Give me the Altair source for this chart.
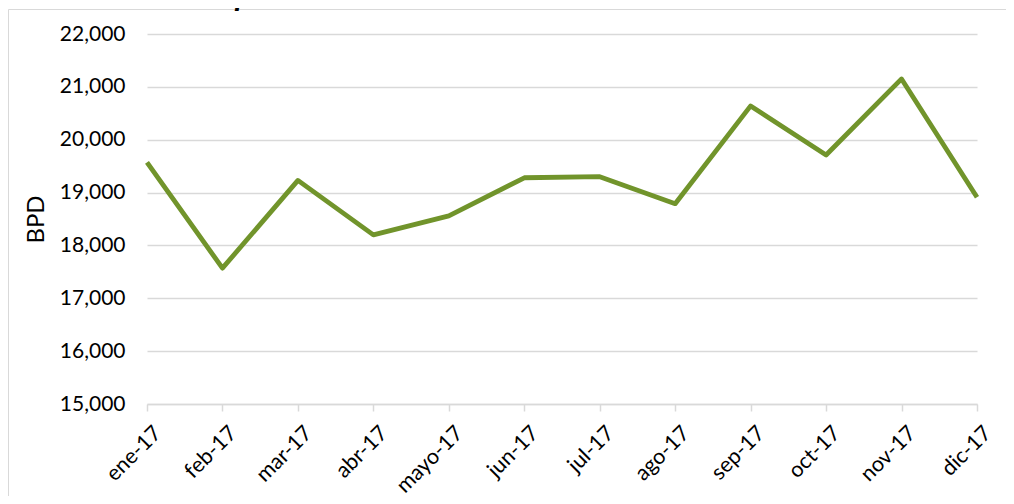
import altair as alt
import pandas as pd

months = ["ene-17", "feb-17", "mar-17", "abr-17", "mayo-17", "jun-17",
          "jul-17", "ago-17", "sep-17", "oct-17", "nov-17", "dic-17"]
bpd = [19570, 17570, 19230, 18200, 18560, 19280,
       19300, 18790, 20640, 19710, 21150, 18910]
y_ticks = [15000, 16000, 17000, 18000, 19000, 20000, 21000, 22000]
title_text = "Gráfica 21. Consumo nacional mensual de GLP año 2017."

df = pd.DataFrame({"mes": months, "bpd": bpd})
one = pd.DataFrame({"t": [title_text]})

FONT = "Lato"
GRID = "#D9D9D9"

line = alt.Chart(df).mark_line(
    color="#71942B", strokeWidth=4.8, strokeJoin="round"
).encode(
    x=alt.X("mes:N", sort=months,
            scale=alt.Scale(type="point", padding=0),
            axis=alt.Axis(title=None, labelAngle=-45, labelAlign="right",
                          labelBaseline="top", labelFont=FONT,
                          labelFontSize=21.5, labelColor="#000000",
                          labelPadding=11, labelOffset=3,
                          tickSize=7, tickColor=GRID, tickWidth=1.5,
                          domainColor=GRID, domainWidth=1.5, grid=False)),
    y=alt.Y("bpd:Q",
            scale=alt.Scale(domain=[15000, 22000], nice=False, zero=False),
            axis=alt.Axis(title="BPD", values=y_ticks, format=",d",
                          labelFont=FONT, labelFontSize=21,
                          labelColor="#000000", labelPadding=22,
                          titleFont=FONT, titleFontSize=24,
                          titleFontWeight="normal", titleColor="#000000",
                          titlePadding=11,
                          domain=False, ticks=False, grid=True,
                          gridColor=GRID, gridWidth=1.5)),
)

border = alt.Chart(one).mark_rect(
    fill="transparent", stroke=GRID, strokeWidth=1
).encode(
    x=alt.value(-138.5), x2=alt.value(900),
    y=alt.value(-24.5), y2=alt.value(480),
)

title = alt.Chart(one).mark_text(
    font="Liberation Serif", fontSize=29, fontStyle="italic",
    fontWeight="bold", color="#000000", align="center",
    baseline="alphabetic",
).encode(
    x=alt.value(391), y=alt.value(-29), text="t:N",
)

chart = alt.layer(border, line, title).properties(
    width=830, height=370,
    padding={"left": 139, "top": 26, "right": 29, "bottom": 92},
    autosize=alt.AutoSizeParams(type="none"),
).configure_view(stroke=None)

chart.save("out.html", embed_options={"renderer": "svg", "actions": False})
